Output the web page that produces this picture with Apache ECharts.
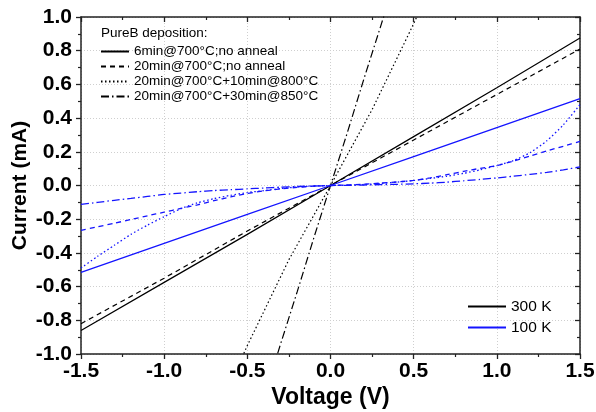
<!DOCTYPE html>
<html>
<head>
<meta charset="utf-8">
<script src="https://cdn.jsdelivr.net/npm/echarts@6/dist/echarts.min.js"></script>
<style>html,body{margin:0;padding:0;background:#fff}#c{width:596px;height:412px}</style>
</head>
<body>
<div id="c"></div>
<script>
// ---- data ----
const legendTitle = "PureB deposition:";
const sampleNames = ["6min@700°C;no anneal", "20min@700°C;no anneal", "20min@700°C+10min@800°C", "20min@700°C+30min@850°C"];
const tempNames = ["300 K", "100 K"];
const xTicks = [-1.5, -1.0, -0.5, 0.0, 0.5, 1.0, 1.5];
const yTicks = [-1.0, -0.8, -0.6, -0.4, -0.2, 0.0, 0.2, 0.4, 0.6, 0.8, 1.0];

// 300 K
const vLin = [-1.5, -1.0, -0.5, 0, 0.5, 1.0, 1.5];
const i300_6min = [-0.86, -0.575, -0.29, 0, 0.29, 0.58, 0.875];
const i300_20min = [-0.82, -0.55, -0.27, 0, 0.27, 0.54, 0.81];
const v300_800 = [-0.6, -0.5, -0.25, 0, 0.25, 0.5, 0.6];
const i300_800 = [-1.17, -0.95, -0.44, 0, 0.45, 0.96, 1.18];
const v300_850 = [-0.4, -0.3, -0.2, -0.1, 0, 0.1, 0.2, 0.3, 0.4];
const i300_850 = [-1.26, -0.94, -0.63, -0.31, 0, 0.31, 0.63, 0.94, 1.26];

// 100 K
const i100_6min = [-0.515, -0.343, -0.172, 0, 0.172, 0.343, 0.515];
const v100 = [-1.5, -1.4, -1.3, -1.2, -1.1, -1.0, -0.9, -0.8, -0.7, -0.6, -0.5, -0.4, -0.3, -0.2, -0.1, 0,
              0.1, 0.2, 0.3, 0.4, 0.5, 0.6, 0.7, 0.8, 0.9, 1.0, 1.1, 1.2, 1.3, 1.4, 1.5];
const i100_20min = [-0.266, -0.245, -0.224, -0.202, -0.18, -0.158, -0.136, -0.115, -0.09, -0.068, -0.047, -0.032, -0.02, -0.011, -0.004, 0,
                    0.003, 0.008, 0.014, 0.021, 0.03, 0.045, 0.064, 0.084, 0.102, 0.118, 0.145, 0.175, 0.205, 0.233, 0.262];
const i100_800 = [-0.49, -0.42, -0.355, -0.29, -0.235, -0.185, -0.138, -0.103, -0.078, -0.058, -0.042, -0.03, -0.018, -0.009, -0.003, 0,
                  0.002, 0.006, 0.012, 0.02, 0.03, 0.042, 0.055, 0.072, 0.093, 0.118, 0.148, 0.195, 0.265, 0.36, 0.48];
const i100_850 = [-0.112, -0.1, -0.088, -0.077, -0.065, -0.053, -0.045, -0.037, -0.03, -0.025, -0.02, -0.015, -0.01, -0.006, -0.003, 0,
                  0.001, 0.003, 0.005, 0.007, 0.01, 0.014, 0.02, 0.028, 0.036, 0.045, 0.055, 0.066, 0.078, 0.093, 0.11];

// ---- styles ----
const BLACK = '#000000', BLUE = '#1414ff';
const FONT = 'Liberation Sans, Arial, sans-serif';
const dashTypes = ['solid', [5, 4], [1.5, 2.5], [8, 3, 1.5, 3]];

function pairs(xs, ys) { return xs.map((x, k) => [x, ys[k]]); }

const series = [];
const d300 = [pairs(vLin, i300_6min), pairs(vLin, i300_20min), pairs(v300_800, i300_800), pairs(v300_850, i300_850)];
const d100 = [pairs(vLin, i100_6min), pairs(v100, i100_20min), pairs(v100, i100_800), pairs(v100, i100_850)];
d300.forEach((d, k) => series.push({
  name: sampleNames[k], type: 'line', data: d, symbol: 'none', smooth: false, clip: true,
  lineStyle: { color: BLACK, width: 1.2, type: dashTypes[k] }, itemStyle: { color: BLACK, opacity: 0 }
}));
d100.forEach((d, k) => series.push({
  name: '100K ' + sampleNames[k], type: 'line', data: d, symbol: 'none', smooth: k === 0 ? false : 0.2, clip: true,
  lineStyle: { color: BLUE, width: 1.3, type: dashTypes[k] }, itemStyle: { color: BLUE, opacity: 0 }
}));
[BLACK, BLUE].forEach((c, k) => series.push({
  name: tempNames[k], type: 'line', data: [], symbol: 'none',
  lineStyle: { color: c, width: 1.2, type: 'solid' }, itemStyle: { color: c, opacity: 0 }
}));

const fmt = v => v.toFixed(1);
const axisLine = { show: true, onZero: false, lineStyle: { color: '#222', width: 1.5 } };
const split = { show: true, lineStyle: { color: '#cfcfcf', type: [1, 2], width: 1 } };
const hiddenSymbol = { opacity: 0, borderWidth: 0 };

const option = {
  animation: false,
  backgroundColor: '#fff',
  textStyle: { fontFamily: FONT },
  title: { text: legendTitle, left: 101, top: 26, padding: 0,
    textStyle: { fontFamily: FONT, fontSize: 13.5, fontWeight: 'normal', color: '#000' } },
  grid: { left: 81, right: 16, top: 17, bottom: 58, containLabel: false, outerBoundsMode: 'none' },
  legend: [
    { data: sampleNames, orient: 'vertical', left: 100, top: 44, itemWidth: 28, itemHeight: 10, itemGap: 0,
      padding: 0, selectedMode: false, itemStyle: hiddenSymbol,
      textStyle: { fontFamily: FONT, fontSize: 13.5, color: '#000', lineHeight: 15 } },
    { data: tempNames, orient: 'vertical', left: 467, top: 296, itemWidth: 38, itemHeight: 10, itemGap: 0,
      padding: 0, selectedMode: false, itemStyle: hiddenSymbol,
      textStyle: { fontFamily: FONT, fontSize: 15.5, color: '#000', lineHeight: 21 } }
  ],
  xAxis: [
    { type: 'value', min: -1.5, max: 1.5, interval: 0.5, position: 'bottom',
      axisLine, axisTick: { show: true, inside: false, length: 5, lineStyle: { color: '#222', width: 1.3 } },
      minorTick: { show: true, splitNumber: 2, length: 3, lineStyle: { color: '#222', width: 1.2 } },
      axisLabel: { margin: 7, fontSize: 21, fontWeight: 'bold', color: '#000', fontFamily: FONT,
        formatter: v => xTicks.some(t => Math.abs(t - v) < 1e-9) ? fmt(v) : '' },
      splitLine: split,
      name: 'Voltage (V)', nameLocation: 'middle', nameGap: 32, nameMoveOverlap: false,
      nameTextStyle: { fontSize: 23, fontWeight: 'bold', color: '#000', fontFamily: FONT } },
    { type: 'value', min: -1.5, max: 1.5, interval: 0.5, position: 'top',
      axisLine, axisTick: { show: true, inside: true, length: 5, lineStyle: { color: '#222', width: 1.3 } },
      minorTick: { show: true, splitNumber: 2, length: 3, lineStyle: { color: '#222', width: 1.2 } },
      axisLabel: { show: false }, splitLine: { show: false } }
  ],
  yAxis: [
    { type: 'value', min: -1.0, max: 1.0, interval: 0.2, position: 'left',
      axisLine, axisTick: { show: true, inside: false, length: 5, lineStyle: { color: '#222', width: 1.3 } },
      minorTick: { show: true, splitNumber: 2, length: 3, lineStyle: { color: '#222', width: 1.2 } },
      axisLabel: { margin: 9, fontSize: 21, fontWeight: 'bold', color: '#000', fontFamily: FONT,
        formatter: v => yTicks.some(t => Math.abs(t - v) < 1e-9) ? fmt(v) : '' },
      splitLine: split,
      name: 'Current (mA)', nameLocation: 'middle', nameGap: 50, nameRotate: 90, nameMoveOverlap: false,
      nameTextStyle: { fontSize: 21, fontWeight: 'bold', color: '#000', fontFamily: FONT } },
    { type: 'value', min: -1.0, max: 1.0, interval: 0.2, position: 'right',
      axisLine, axisTick: { show: true, inside: true, length: 5, lineStyle: { color: '#222', width: 1.3 } },
      minorTick: { show: true, splitNumber: 2, length: 3, lineStyle: { color: '#222', width: 1.2 } },
      axisLabel: { show: false }, splitLine: { show: false } }
  ],
  series
};
const chart = echarts.init(document.getElementById('c'), null, { renderer: 'canvas' });
chart.setOption(option);
</script>
</body>
</html>
